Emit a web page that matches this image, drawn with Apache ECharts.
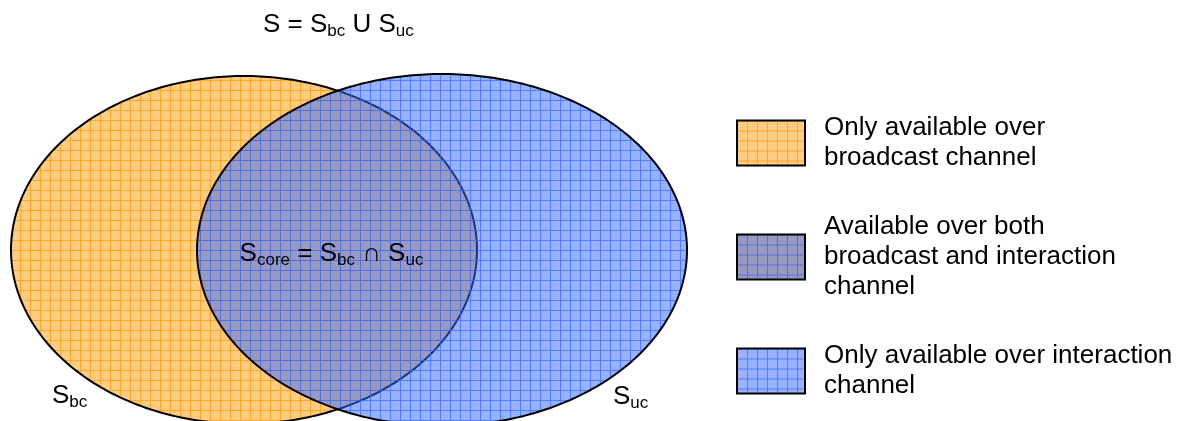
<!DOCTYPE html>
<html><head><meta charset="utf-8">
<script src="https://cdn.jsdelivr.net/npm/echarts@6/dist/echarts.min.js"></script>
<style>html,body{margin:0;padding:0;background:#fff}#c{width:1179px;height:421px}</style>
</head><body><div id="c"></div>
<script>
// ---- data (set geometry in data units of a hidden cartesian plane) ----
const legendNames = [
  'Only available over\nbroadcast channel',
  'Available over both\nbroadcast and interaction\nchannel',
  'Only available over interaction\nchannel'
];
const setCenterX = [244, 442];
const setCenterY = [250, 250];
const setRadiusX = [233, 245];
const setRadiusY = [174, 176];
const titleText = '{m|S = S}{s|bc}{m| U S}{s|uc}';
const setLabelText = ['{m|S}{s|bc}', '{m|S}{s|uc}'];
const coreLabelText = '{m|S}{s|core}{m| = S}{s|bc}{m| ∩ S}{s|uc}';

// ---- styling ----
const FONT = 'Arial, "Liberation Sans", sans-serif';
const rich = {
  m: { fontSize: 26, lineHeight: 30, fontFamily: FONT, color: '#000', fontWeight: 'normal' },
  s: { fontSize: 17, lineHeight: 20, fontFamily: FONT, color: '#000', fontWeight: 'normal', verticalAlign: 'bottom' }
};
const TILE = 10;
function tile(rgb, baseA, dotA, lineA) {
  const c = document.createElement('canvas'); c.width = c.height = TILE;
  const ctx = c.getContext('2d');
  const img = ctx.createImageData(TILE, TILE);
  for (let y = 0; y < TILE; y++) for (let x = 0; x < TILE; x++) {
    const i = (y * TILE + x) * 4;
    let a = ((x + y) % 2 === 0) ? dotA : baseA;
    if (x === 0 || y === 0) a = lineA;
    img.data[i] = rgb[0]; img.data[i + 1] = rgb[1]; img.data[i + 2] = rgb[2]; img.data[i + 3] = Math.round(a * 255);
  }
  ctx.putImageData(img, 0, 0);
  return c;
}
const orangeTile = tile([255, 153, 0], 0.45, 0.53, 0.85);
const blueTile = tile([51, 102, 255], 0.48, 0.53, 0.85);
const bothTile = (function () {
  const c = document.createElement('canvas'); c.width = c.height = TILE;
  const ctx = c.getContext('2d');
  ctx.fillStyle = '#fff'; ctx.fillRect(0, 0, TILE, TILE);
  ctx.drawImage(orangeTile, 0, 0); ctx.drawImage(blueTile, 0, 0);
  return c;
})();
const orangePattern = { image: orangeTile, repeat: 'repeat' };
const bluePattern = { image: blueTile, repeat: 'repeat' };
const bothPattern = { image: bothTile, repeat: 'repeat' };

function ellipsePts(api, cx, cy, rx, ry, t0, t1, filter) {
  const pts = [];
  const N = 360;
  for (let k = 0; k <= N; k++) {
    const t = t0 + (t1 - t0) * k / N;
    const x = cx + rx * Math.cos(t), y = cy + ry * Math.sin(t);
    if (!filter || filter(x, y)) pts.push(api.coord([x, y]));
  }
  return pts;
}
function inside(i, x, y) {
  const dx = (x - setCenterX[i]) / setRadiusX[i], dy = (y - setCenterY[i]) / setRadiusY[i];
  return dx * dx + dy * dy <= 1;
}

function setRender(i, pattern, labelAnchor) {
  return function (params, api) {
    const cx = api.value(0), cy = api.value(1), rx = api.value(2), ry = api.value(3);
    const a = api.coord(labelAnchor);
    return {
      type: 'group',
      children: [
        { type: 'polygon', shape: { points: ellipsePts(api, cx, cy, rx, ry, 0, Math.PI * 2) },
          style: { fill: pattern, stroke: '#000', lineWidth: 2 } },
        { type: 'text', x: a[0], y: a[1],
          style: { text: setLabelText[i], rich: rich, align: 'left', verticalAlign: 'middle' } }
      ]
    };
  };
}

const lensCenterX = ((setCenterX[1] - setRadiusX[1]) + (setCenterX[0] + setRadiusX[0])) / 2;
const lensCenterY = (setCenterY[0] + setCenterY[1]) / 2;

const chart = echarts.init(document.getElementById('c'), null, { renderer: 'canvas' });
chart.setOption({
  animation: false,
  backgroundColor: '#fff',
  title: {
    text: titleText, left: 263, top: 10, padding: 0,
    textStyle: { fontWeight: 'normal', fontFamily: FONT, rich: rich }
  },
  grid: { left: 0, right: 0, top: 0, bottom: 0 },
  xAxis: { type: 'value', min: 0, max: 1179, show: false },
  yAxis: { type: 'value', min: 0, max: 421, inverse: true, show: false },
  legend: {
    orient: 'vertical', left: 736, top: 108, padding: 0, itemGap: 29,
    itemWidth: 68, itemHeight: 45, icon: 'rect', selectedMode: false,
    textStyle: { fontSize: 26, lineHeight: 30, fontFamily: FONT, color: '#000', padding: [10, 0, 0, 14] },
    data: [
      { name: legendNames[0], itemStyle: { color: orangePattern, borderColor: '#000', borderWidth: 2 } },
      { name: legendNames[1], itemStyle: { color: bothPattern, borderColor: '#000', borderWidth: 2 } },
      { name: legendNames[2], itemStyle: { color: bluePattern, borderColor: '#000', borderWidth: 2 } }
    ]
  },
  series: [
    {
      type: 'custom', name: legendNames[0], coordinateSystem: 'cartesian2d', z: 1, clip: false,
      itemStyle: { color: orangePattern },
      encode: { x: 0, y: 1 },
      data: [[setCenterX[0], setCenterY[0], setRadiusX[0], setRadiusY[0]]],
      renderItem: setRender(0, orangePattern, [52, 396])
    },
    {
      type: 'custom', name: legendNames[2], coordinateSystem: 'cartesian2d', z: 2, clip: false,
      itemStyle: { color: bluePattern },
      encode: { x: 0, y: 1 },
      data: [[setCenterX[1], setCenterY[1], setRadiusX[1], setRadiusY[1]]],
      renderItem: setRender(1, bluePattern, [613, 397])
    },
    {
      type: 'custom', name: legendNames[1], coordinateSystem: 'cartesian2d', z: 3, clip: false,
      itemStyle: { color: bothPattern },
      encode: { x: 0, y: 1 },
      data: [[lensCenterX, lensCenterY]],
      renderItem: function (params, api) {
        const pts = ellipsePts(api, setCenterX[1], setCenterY[1], setRadiusX[1], setRadiusY[1],
            Math.PI / 2, Math.PI * 1.5, (x, y) => inside(0, x, y))
          .concat(ellipsePts(api, setCenterX[0], setCenterY[0], setRadiusX[0], setRadiusY[0],
            -Math.PI / 2, Math.PI / 2, (x, y) => inside(1, x, y)));
        const c = api.coord([api.value(0) - 5.5, api.value(1) + 4]);
        return {
          type: 'group',
          children: [
            { type: 'polygon', shape: { points: pts }, style: { fill: 'rgba(0,0,0,0)', stroke: null } },
            { type: 'text', x: c[0], y: c[1],
              style: { text: coreLabelText, rich: rich, align: 'center', verticalAlign: 'middle' } }
          ]
        };
      }
    }
  ]
});
</script>
</body></html>
